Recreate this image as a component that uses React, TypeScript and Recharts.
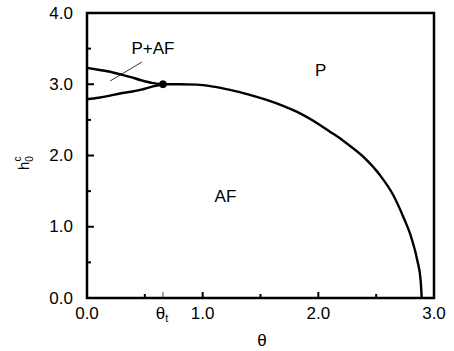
import React from "react";
import {
  LineChart,
  Line,
  XAxis,
  YAxis,
  ReferenceArea,
  ReferenceDot,
  ReferenceLine,
} from "recharts";

// phase boundary h0^c(θ)
const MAIN_THETA = [0.657, 0.804, 0.95, 1.092, 1.236, 1.4, 1.553, 1.69, 1.812, 2.014, 2.1, 2.187, 2.244, 2.388, 2.532, 2.647, 2.734, 2.806, 2.855, 2.884, 2.894];
const MAIN_H = [3.0, 3.0, 2.995, 2.966, 2.92, 2.855, 2.78, 2.7, 2.615, 2.428, 2.334, 2.241, 2.171, 1.983, 1.726, 1.446, 1.141, 0.838, 0.533, 0.253, 0];
const UPPER_THETA = [0, 0.11, 0.2, 0.285, 0.38, 0.46, 0.56, 0.657];
const UPPER_H = [3.23, 3.2, 3.175, 3.14, 3.1, 3.06, 3.02, 3.0];
const LOWER_THETA = [0, 0.1, 0.2, 0.285, 0.38, 0.46, 0.57, 0.657];
const LOWER_H = [2.79, 2.81, 2.84, 2.87, 2.895, 2.92, 2.97, 3.0];

const THETA_T = 0.657;
const X_TICKS = [0, 0.5, 1, 1.5, 2, 2.5, 3];
const Y_TICKS = [0, 0.5, 1, 1.5, 2, 2.5, 3, 3.5, 4];

const FONT = "'Liberation Sans', Arial, Helvetica, sans-serif";
const FS = 17;

const zip = (xs: number[], ys: number[]) => xs.map((x, i) => ({ x, y: ys[i] }));
const mainData = zip(MAIN_THETA, MAIN_H);
const upperData = zip(UPPER_THETA, UPPER_H);
const lowerData = zip(LOWER_THETA, LOWER_H);

const isMajor = (v: number) => Number.isInteger(v);

function BottomTick({ x, y, payload }: any) {
  const v = payload.value;
  if (v === THETA_T) {
    return (
      <g>
        <line x1={x} y1={y} x2={x} y2={y - 6} stroke="#000" strokeWidth={0.7} />
        <text x={x - 1} y={y + 15} textAnchor="middle" dominantBaseline="central" fontFamily={FONT} fontSize={FS} fill="#000">
          θ<tspan fontSize={11} dy={5}>t</tspan>
        </text>
      </g>
    );
  }
  return (
    <g>
      <line x1={x} y1={y} x2={x} y2={y - (isMajor(v) ? 6 : 4)} stroke="#000" strokeWidth={2} />
      {isMajor(v) && (
        <text x={x} y={y + 15} textAnchor="middle" dominantBaseline="central" fontFamily={FONT} fontSize={FS} fill="#000">
          {v.toFixed(1)}
        </text>
      )}
    </g>
  );
}

function TopTick({ x, y, payload }: any) {
  const v = payload.value;
  return <line x1={x} y1={y} x2={x} y2={y + (isMajor(v) ? 6 : 4)} stroke="#000" strokeWidth={2} />;
}

function LeftTick({ x, y, payload }: any) {
  const v = payload.value;
  return (
    <g>
      <line x1={x} y1={y} x2={x + (isMajor(v) ? 7 : 4)} y2={y} stroke="#000" strokeWidth={2} />
      {isMajor(v) && (
        <text x={x - 14} y={y} textAnchor="end" dominantBaseline="central" fontFamily={FONT} fontSize={FS} fill="#000">
          {v.toFixed(1)}
        </text>
      )}
    </g>
  );
}

function RightTick({ x, y, payload }: any) {
  const v = payload.value;
  return <line x1={x} y1={y} x2={x - (isMajor(v) ? 7 : 4)} y2={y} stroke="#000" strokeWidth={2} />;
}

const textAt = (label: string) => (p: any) => (
  <text x={p.cx} y={p.cy} textAnchor="middle" dominantBaseline="central" fontFamily={FONT} fontSize={FS} fill="#000">
    {label}
  </text>
);

export default function App() {
  return (
    <div style={{ position: "absolute", left: 0, top: 0, background: "#fff" }}>
      <LineChart width={454} height={351} margin={{ top: 0, right: 0, bottom: 0, left: 0 }}>
        <XAxis
          dataKey="x"
          type="number"
          domain={[0, 3]}
          ticks={[...X_TICKS, THETA_T].sort((a, b) => a - b)}
          interval={0}
          height={53}
          tickSize={0}
          tickMargin={0}
          axisLine={false}
          tickLine={false}
          tick={<BottomTick />}
        />
        <XAxis
          xAxisId="top"
          orientation="top"
          dataKey="x"
          type="number"
          domain={[0, 3]}
          ticks={X_TICKS}
          interval={0}
          height={13}
          tickSize={0}
          tickMargin={0}
          axisLine={false}
          tickLine={false}
          tick={<TopTick />}
        />
        <YAxis
          type="number"
          domain={[0, 4]}
          ticks={Y_TICKS}
          interval={0}
          width={87}
          tickSize={0}
          tickMargin={0}
          axisLine={false}
          tickLine={false}
          tick={<LeftTick />}
        />
        <YAxis
          yAxisId="right"
          orientation="right"
          type="number"
          domain={[0, 4]}
          ticks={Y_TICKS}
          interval={0}
          width={20}
          tickSize={0}
          tickMargin={0}
          axisLine={false}
          tickLine={false}
          tick={<RightTick />}
        />
        <ReferenceArea x1={0} x2={3} y1={0} y2={4} fill="none" stroke="#000" strokeWidth={2.5} />
        <Line data={mainData} dataKey="y" type="monotone" stroke="#000" strokeWidth={2.4} dot={false} isAnimationActive={false} />
        <Line data={upperData} dataKey="y" type="monotone" stroke="#000" strokeWidth={2.4} dot={false} isAnimationActive={false} />
        <Line data={lowerData} dataKey="y" type="monotone" stroke="#000" strokeWidth={2.4} dot={false} isAnimationActive={false} />
        <ReferenceDot x={THETA_T} y={3.0} r={3.5} fill="#000" stroke="#000" />
        <ReferenceLine segment={[{ x: 0.2, y: 3.046 }, { x: 0.475, y: 3.312 }]} stroke="#000" strokeWidth={0.8} />
        <ReferenceDot x={0.57} y={3.495} r={0} shape={textAt("P+AF")} />
        <ReferenceDot x={2.02} y={3.2} r={0} shape={textAt("P")} />
        <ReferenceDot x={1.197} y={1.418} r={0} shape={textAt("AF")} />
      </LineChart>
      <svg width={454} height={351} style={{ position: "absolute", left: 0, top: 0, pointerEvents: "none" }}>
        <text x={262} y={340} textAnchor="middle" dominantBaseline="central" fontFamily={FONT} fontSize={FS} fill="#000">
          θ
        </text>
        <g transform="translate(29,170) rotate(-90)">
          <text x={0} y={0} fontFamily={FONT} fontSize={15} fill="#000">
            h<tspan fontSize={10} dy={4}>0</tspan>
            <tspan fontSize={10} dx={-5.5} dy={-12}>c</tspan>
          </text>
        </g>
      </svg>
    </div>
  );
}
